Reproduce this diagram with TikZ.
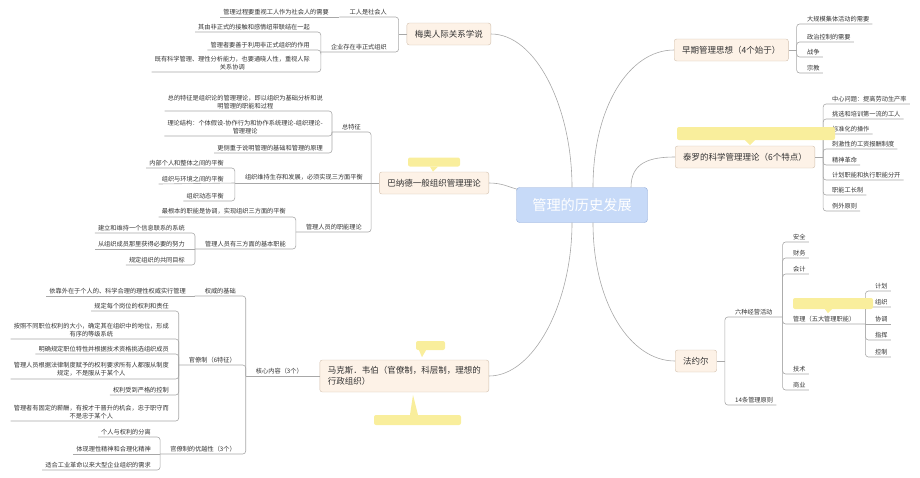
\documentclass[tikz,border=0pt]{standalone}
\usepackage{fontspec}
\setmainfont{Noto Sans CJK SC}
\definecolor{linkgray}{HTML}{A8A8A8}
\definecolor{topicfill}{HTML}{FDF2E7}
\definecolor{topicline}{HTML}{D2C0AE}
\definecolor{rootfill}{HTML}{C7DAF8}
\definecolor{rootline}{HTML}{90AAD8}
\definecolor{notefill}{HTML}{F9EE9C}
\definecolor{inkgray}{HTML}{333333}

\begin{document}
\begin{tikzpicture}[
        x=1pt, y=-1pt,
        root/.style={draw=rootline, fill=rootfill, rounded corners=3pt, text=white,
            font=\fontsize{14.2}{16}\selectfont, minimum width=131pt, minimum height=35pt},
        topic/.style={draw=topicline, fill=topicfill, rounded corners=2.5pt, text=inkgray,
            font=\fontsize{8.5}{11}\selectfont, inner xsep=8pt, minimum height=22pt},
        leaf/.style={text=inkgray, font=\fontsize{6.2}{8}\selectfont, inner xsep=0pt, inner ysep=2.2pt, align=center},
        leafl/.style={leaf, anchor=south east},
        leafr/.style={leaf, anchor=south west},
        link/.style={draw=linkgray, line width=0.6pt, rounded corners=3pt},
        curve/.style={draw=linkgray, line width=0.6pt},
        note/.style={fill=notefill, rounded corners=2pt, inner sep=0pt}
    ]
    \useasboundingbox (0,0) rectangle (920,477);

    % centre and main topics
    \node[root] (hist) at (582,205) {管理的历史发展};
    \node[topic, anchor=east] (mayo) at (491,34) {梅奥人际关系学说};
    \node[topic, anchor=east] (barnard) at (489,183) {巴纳德一般组织管理理论};
    \node[topic, anchor=east, align=left, minimum height=32pt] (weber) at (489,376) {马克斯．韦伯（官僚制，科层制，理想的\\行政组织）};
    \node[topic, anchor=west] (early) at (674,50) {早期管理思想（4个始于）};
    \node[topic, anchor=west] (taylor) at (675,157) {泰罗的科学管理理论（6个特点）};
    \node[topic, anchor=west] (fayol) at (675,361) {法约尔};

    \draw[curve] ([xshift=-10pt]hist.north) .. controls +(0,-80) and +(45,0) .. (mayo.east);
    \draw[curve] ([xshift=11pt]hist.north) .. controls +(0,-80) and +(-45,0) .. (early.west);
    \draw[curve] ([xshift=49pt]hist.north) .. controls +(0,-25) and +(-25,0) .. (taylor.west);
    \draw[curve] ([xshift=1pt,yshift=-2pt]hist.north west) .. controls +(-10,-3) and +(12,0) .. (barnard.east);
    \draw[curve] ([xshift=-10pt]hist.south) .. controls +(0,80) and +(45,0) .. (weber.east);
    \draw[curve] ([xshift=11pt]hist.south) .. controls +(0,80) and +(-45,0) .. (fayol.west);

    % Mayo
    \node[leafl] (m1) at (387,17) {工人是社会人};
    \node[leafl] (m11) at (329,17) {管理过程要重视工人作为社会人的需要};
    \node[leafl] (m2) at (387,52) {企业存在非正式组织};
    \node[leafl] (m21) at (310,32) {其由非正式的接触和感情纽带联结在一起};
    \node[leafl] (m22) at (310,50) {管理者要善于利用非正式组织的作用};
    \node[leafl] (m23) at (310,72) {既有科学管理、理性分析能力，也要通晓人性，重视人际\\关系协调};
    \draw[link] (mayo.west) -- ([xshift=-8pt]mayo.west);
    \foreach \nd in {m1,m2} \draw[link] ([xshift=-8pt]mayo.west) |- ([xshift=-10pt]\nd.south west);
    \draw[link] ([xshift=-10pt]m1.south west) -- ([xshift=-3pt]m11.south west);
    \foreach \nd in {m21,m22,m23} \draw[link] ([xshift=-10pt]m2.south west) |- ([xshift=-3pt]\nd.south west);

    % Barnard
    \node[leafl] (b1) at (361,132) {总特征};
    \node[leafl] (b11) at (323,111) {总的特征是组织论的管理理论，即以组织为基础分析和说\\明管理的职能和过程};
    \node[leafl] (b12) at (323,136) {理论结构：个体假设-协作行为和协作系统理论-组织理论-\\管理理论};
    \node[leafl] (b13) at (323,153) {更侧重于说明管理的基础和管理的原理};
    \node[leafl] (b2) at (363,183) {组织维持生存和发展，必须实现三方面平衡};
    \node[leafl] (b21) at (224,168) {内部个人和整体之间的平衡};
    \node[leafl] (b22) at (224,184) {组织与环境之间的平衡};
    \node[leafl] (b23) at (224,201) {组织动态平衡};
    \node[leafl] (b3) at (362,232) {管理人员的职能理论};
    \node[leafl] (b31) at (286,217) {最根本的职能是协调，实现组织三方面的平衡};
    \node[leafl] (b32) at (286,249) {管理人员有三方面的基本职能};
    \node[leafl] (b321) at (185,233) {建立和维持一个信息联系的系统};
    \node[leafl] (b322) at (185,249) {从组织成员那里获得必要的努力};
    \node[leafl] (b323) at (185,265) {规定组织的共同目标};
    \draw[link] (barnard.west) -- ([xshift=-8pt]barnard.west);
    \foreach \nd in {b1,b3} \draw[link] ([xshift=-8pt]barnard.west) |- ([xshift=-10pt]\nd.south west);
    \draw[link] ([xshift=-8pt]barnard.west) -- ([xshift=-10pt]b2.south west);
    \foreach \nd in {b11,b12,b13} \draw[link] ([xshift=-10pt]b1.south west) |- ([xshift=-3pt]\nd.south west);
    \foreach \nd in {b21,b23} \draw[link] ([xshift=-10pt]b2.south west) |- ([xshift=-3pt]\nd.south west);
    \draw[link] ([xshift=-10pt]b2.south west) -- ([xshift=-3pt]b22.south west);
    \draw[link] ([xshift=-10pt]b3.south west) |- ([xshift=-3pt]b31.south west);
    \draw[link] ([xshift=-10pt]b3.south west) |- ([xshift=-10pt]b32.south west);
    \foreach \nd in {b321,b323} \draw[link] ([xshift=-10pt]b32.south west) |- ([xshift=-3pt]\nd.south west);
    \draw[link] ([xshift=-10pt]b32.south west) -- ([xshift=-3pt]b322.south west);

    % Weber
    \node[leafl] (w1) at (303,376) {核心内容（3个）};
    \node[leafl] (w11) at (236,296) {权威的基础};
    \node[leafl] (w111) at (186,296) {依靠外在于个人的、科学合理的理性权威实行管理};
    \node[leafl] (w12) at (236,365) {官僚制（6特征）};
    \node[leafl] (w121) at (169,311) {规定每个岗位的权利和责任};
    \node[leafl] (w122) at (169,339) {按照不同职位权利的大小，确定其在组织中的地位，形成\\有序的等级系统};
    \node[leafl] (w123) at (169,354) {明确规定职位特性并根据技术资格挑选组织成员};
    \node[leafl] (w124) at (169,379) {管理人员根据法律制度赋予的权利要求所有人都服从制度\\规定，不是服从于某个人};
    \node[leafl] (w125) at (169,395) {权利受到严格的控制};
    \node[leafl] (w126) at (169,421) {管理者有固定的薪酬，有按才干晋升的机会，忠于职守而\\不是忠于某个人};
    \node[leafl] (w13) at (236,454) {官僚制的优越性（3个）};
    \node[leafl] (w131) at (151,437) {个人与权利的分离};
    \node[leafl] (w132) at (151,454) {体现理性精神和合理化精神};
    \node[leafl] (w133) at (151,470) {适合工业革命以来大型企业组织的需求};
    \draw[link] (weber.west) -- ([xshift=-10pt]w1.south west);
    \foreach \nd in {w11,w12,w13} \draw[link] ([xshift=-10pt]w1.south west) |- ([xshift=-10pt]\nd.south west);
    \draw[link] ([xshift=-10pt]w11.south west) -- ([xshift=-3pt]w111.south west);
    \foreach \nd in {w121,w122,w123,w124,w125,w126} \draw[link] ([xshift=-10pt]w12.south west) |- ([xshift=-3pt]\nd.south west);
    \foreach \nd in {w131,w133} \draw[link] ([xshift=-10pt]w13.south west) |- ([xshift=-3pt]\nd.south west);
    \draw[link] ([xshift=-10pt]w13.south west) -- ([xshift=-3pt]w132.south west);

    % early thoughts
    \node[leafr] (e1) at (807,24) {大规模集体活动的需要};
    \node[leafr] (e2) at (807,42) {政治控制的需要};
    \node[leafr] (e3) at (807,57) {战争};
    \node[leafr] (e4) at (807,73) {宗教};
    \draw[link] (early.east) -- ([xshift=8pt]early.east);
    \foreach \nd in {e1,e2,e3,e4} \draw[link] ([xshift=8pt]early.east) |- ([xshift=3pt]\nd.south east);

    % Taylor
    \node[leafr] (t1) at (832,104) {中心问题：提高劳动生产率};
    \node[leafr] (t2) at (832,119) {挑选和培训第一流的工人};
    \node[leafr] (t3) at (832,134) {标准化的操作};
    \node[leafr] (t4) at (832,149) {刺激性的工资报酬制度};
    \node[leafr] (t5) at (832,165) {精神革命};
    \node[leafr] (t6) at (832,180) {计划职能和执行职能分开};
    \node[leafr] (t7) at (832,195) {职能工长制};
    \node[leafr] (t8) at (832,211) {例外原则};
    \draw[link] (taylor.east) -- ([xshift=8pt]taylor.east);
    \foreach \nd in {t1,t2,t3,t4,t5,t6,t7,t8} \draw[link] ([xshift=8pt]taylor.east) |- ([xshift=3pt]\nd.south east);

    % Fayol
    \node[leafr] (f1) at (735,317) {六种经营活动};
    \node[leafr] (f11) at (793,242) {安全};
    \node[leafr] (f12) at (793,258) {财务};
    \node[leafr] (f13) at (793,274) {会计};
    \node[leafr] (f14) at (793,324) {管理（五大管理职能）};
    \node[leafr] (f141) at (875,291) {计划};
    \node[leafr] (f142) at (875,307) {组织};
    \node[leafr] (f143) at (875,324) {协调};
    \node[leafr] (f144) at (875,340) {指挥};
    \node[leafr] (f145) at (875,357) {控制};
    \node[leafr] (f15) at (793,374) {技术};
    \node[leafr] (f16) at (793,390) {商业};
    \node[leafr] (f2) at (735,405) {14条管理原则};
    \draw[link] (fayol.east) -- ([xshift=8pt]fayol.east);
    \draw[link] ([xshift=8pt]fayol.east) |- ([xshift=10pt]f1.south east);
    \draw[link] ([xshift=8pt]fayol.east) |- ([xshift=3pt]f2.south east);
    \foreach \nd in {f11,f12,f13,f15,f16} \draw[link] ([xshift=10pt]f1.south east) |- ([xshift=3pt]\nd.south east);
    \draw[link] ([xshift=10pt]f1.south east) |- ([xshift=10pt]f14.south east);
    \foreach \nd in {f141,f142,f144,f145} \draw[link] ([xshift=10pt]f14.south east) |- ([xshift=3pt]\nd.south east);
    \draw[link] ([xshift=10pt]f14.south east) -- ([xshift=3pt]f143.south east);

    % notes
    \node[note, minimum width=52pt, minimum height=9pt] (n1) at (434,162) {};
    \fill[notefill] ([xshift=-4pt]n1.south) -- ++(8,0) -- ++(-5,5) -- cycle;
    \node[note, minimum width=158pt, minimum height=13pt] (n2) at (756,133.5) {};
    \fill[notefill] ([xshift=-11pt]n2.south) -- ++(10,0) -- ++(-5,5) -- cycle;
    \node[note, minimum width=80pt, minimum height=11pt] (n3) at (833,303.5) {};
    \fill[notefill] ([xshift=-8pt]n3.south) -- ++(7,0) -- ++(-4,4) -- cycle;
    \node[note, minimum width=29pt, minimum height=9pt] (n4) at (430.5,345.5) {};
    \fill[notefill] ([xshift=-11.5pt]n4.south) -- ++(7,0) -- ++(-4,7) -- cycle;
    \node[note, minimum width=87pt, minimum height=10pt] (n5) at (417.5,420) {};
    \fill[notefill] ([xshift=-7.5pt]n5.north) -- ++(8,0) -- ++(-5,-20) -- cycle;
\end{tikzpicture}
\end{document}
